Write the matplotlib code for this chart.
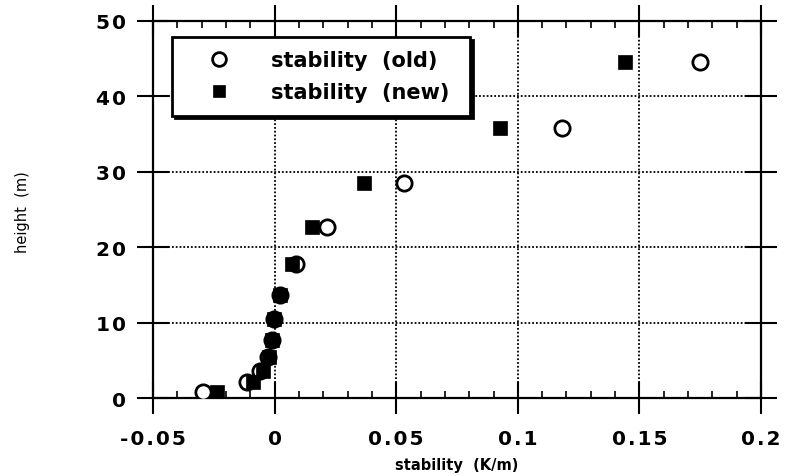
import matplotlib
matplotlib.use("Agg")
import matplotlib.pyplot as plt
from matplotlib.ticker import MultipleLocator, FixedLocator, FixedFormatter

# heights of the measurement levels (m)
HEIGHT = [44.6, 35.8, 28.5, 22.7, 17.8, 13.7, 10.5, 7.7, 5.4, 3.6, 2.1, 0.8]
# stability (K/m) for each level
STAB_OLD = [0.175, 0.118, 0.053, 0.0216, 0.0088, 0.0022, -0.0003, -0.0012,
            -0.0028, -0.006, -0.0113, -0.0294]
STAB_NEW = [0.144, 0.0928, 0.0368, 0.0154, 0.0072, 0.0023, -0.0002, -0.0012,
            -0.0023, -0.0047, -0.0088, -0.0237]

XTICKS = [-0.05, 0, 0.05, 0.1, 0.15, 0.2]
XTICKLABELS = ["-0.05", "0", "0.05", "0.1", "0.15", "0.2"]
YTICKS = [0, 10, 20, 30, 40, 50]
YTICKLABELS = ["0", "10", "20", "30", "40", "50"]


def spaced(s):
    # the original labels are set with a little extra letter spacing
    return "\u200a".join(s)


plt.rcParams["font.family"] = ["DejaVu Sans"]

fig = plt.figure(figsize=(7.89, 4.77), dpi=100)
ax = fig.add_axes([0.194, 0.1635, 0.7705, 0.7905])

ax.plot(STAB_OLD, HEIGHT, "o", ms=11, mfc="white", mec="black", mew=2.0,
        ls="none", label="stability  (old) ", zorder=3)
ax.plot(STAB_NEW, HEIGHT, "s", ms=10, mfc="black", mec="black", mew=0.5,
        ls="none", label="stability  (new) ", zorder=4)

ax.set_xlim(-0.05, 0.2)
ax.set_ylim(0, 50)

ax.xaxis.set_major_locator(FixedLocator(XTICKS))
ax.xaxis.set_major_formatter(FixedFormatter([spaced(t) for t in XTICKLABELS]))
ax.yaxis.set_major_locator(FixedLocator(YTICKS))
ax.yaxis.set_major_formatter(FixedFormatter([spaced(t) for t in YTICKLABELS]))
ax.xaxis.set_minor_locator(MultipleLocator(0.01))

ax.tick_params(which="major", direction="inout", length=23, width=1.5,
               top=True, right=True, labelsize=14.5)
ax.tick_params(axis="x", which="major", pad=11)
ax.tick_params(axis="y", which="major", pad=8)
ax.tick_params(axis="x", which="minor", direction="in", length=5, width=1.2,
               top=True, bottom=True)
for lab in ax.get_xticklabels() + ax.get_yticklabels():
    lab.set_fontweight("bold")

for sp in ax.spines.values():
    sp.set_linewidth(1.6)

ax.grid(True, which="major", color="black", linestyle=(0, (1, 1.1)),
        linewidth=1.3)
ax.set_axisbelow(True)

ax.set_xlabel("stability  (K/m)", fontsize=10.5, fontweight="bold", labelpad=6)
fig.text(0.029, 0.555, "height  (m)", rotation=90, fontsize=10.5,
         ha="center", va="center")

leg = ax.legend(loc="upper left", bbox_to_anchor=(0.031, 0.958),
                borderaxespad=0, fancybox=False, frameon=True,
                shadow={"color": "black", "alpha": 1},
                prop={"size": 15, "weight": "bold"}, markerscale=0.9,
                handletextpad=0.85, handlelength=3.3, borderpad=0.63,
                labelspacing=0.6)
leg.get_frame().set_edgecolor("black")
leg.get_frame().set_linewidth(2)

fig.savefig("out.png", dpi=100)
